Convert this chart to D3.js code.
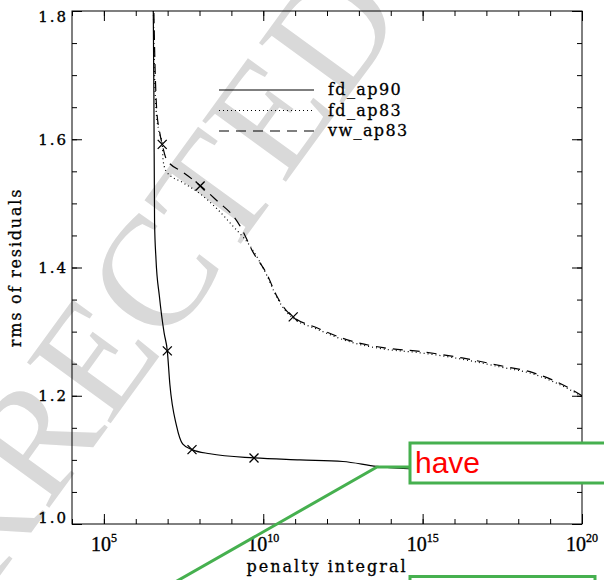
<!DOCTYPE html>
<html lang="en">
<head>
<meta charset="UTF-8">
<title>rms of residuals vs penalty integral</title>
<script src="https://d3js.org/d3.v7.min.js"></script>
<style>
  body { margin: 0; background: #fff; }
  .axis path { display: none; }
  .axis line { stroke: #000; stroke-width: 1px; }
  .ylab { font-family: "DejaVu Serif", serif; font-size: 15px; letter-spacing: 2px; stroke: #000; stroke-width: 0.35px; }
  .xlab { font-family: "Liberation Serif", serif; font-size: 20px; stroke: #000; stroke-width: 0.35px; }
  .title { font-family: "DejaVu Serif", serif; font-size: 16px; stroke: #000; stroke-width: 0.3px; }
  .legend { font-family: "DejaVu Serif", serif; font-size: 16px; letter-spacing: 1.4px; stroke: #000; stroke-width: 0.3px; }
  .curve { fill: none; stroke: #000; stroke-width: 1.2px; }
  .mark { fill: none; stroke: #000; stroke-width: 1.3px; }
</style>
</head>
<body>
<div id="chart"></div>
<script>
// penalty integral given as log10, rms
const fdAp90Exp = [6.545, 6.55, 6.57, 6.59, 6.635, 6.74, 6.81, 6.89, 6.99, 7.07, 7.28, 7.47, 7.765, 8.33, 9.71, 11.15, 12.5, 13.56, 14.6, 16.0, 18.0, 20.0];
const fdAp90Rms = [1.85, 1.80, 1.661, 1.471, 1.413, 1.356, 1.326, 1.298, 1.270, 1.218, 1.153, 1.125, 1.116, 1.1095, 1.103, 1.100, 1.0975, 1.090, 1.086, 1.083, 1.080, 1.078];

const fdAp83Exp = [6.54, 6.58, 6.64, 6.72, 6.83, 6.86, 6.97, 7.49, 8.02, 8.54, 9.06, 9.58, 10.11, 10.42, 10.74, 10.94, 11.68, 12.72, 13.76, 14.92, 16.24, 17.43, 18.46, 19.52, 20.0];
const fdAp83Rms = [1.85, 1.723, 1.644, 1.614, 1.592, 1.566, 1.549, 1.532, 1.515, 1.492, 1.464, 1.434, 1.388, 1.354, 1.330, 1.321, 1.304, 1.284, 1.273, 1.267, 1.257, 1.245, 1.234, 1.212, 1.199];

const vwAp83Exp = [6.55, 6.60, 6.66, 6.74, 6.83, 6.97, 7.5, 8.02, 8.55, 9.11, 9.27, 9.68, 10.11, 10.42, 10.74, 10.94, 11.68, 12.72, 13.76, 14.92, 16.24, 17.43, 18.46, 19.52, 20.0];
const vwAp83Rms = [1.85, 1.723, 1.644, 1.614, 1.592, 1.568, 1.548, 1.528, 1.504, 1.477, 1.465, 1.424, 1.390, 1.356, 1.332, 1.323, 1.306, 1.286, 1.275, 1.269, 1.259, 1.247, 1.236, 1.214, 1.200];

// x markers
const markExp = [6.99, 7.765, 9.71, 6.83, 8.02, 10.94];
const markRms = [1.270, 1.116, 1.103, 1.592, 1.527, 1.323];

const seriesNames = ["fd_ap90", "fd_ap83", "vw_ap83"];
const seriesDash = [null, "1,3", "10,7"];

const xMajorExp = [5, 10, 15, 20];
const xMinorExp = d3.range(4, 21);
const yMajor = [1.0, 1.2, 1.4, 1.6, 1.8];
const yMinor = d3.range(1.0, 1.8001, 0.05);

const margin = { top: 11, right: 22, bottom: 56, left: 72 },
      width = 510,
      height = 513;

const svg = d3.select("#chart")
  .append("svg")
  .attr("width", 604)
  .attr("height", 580);

// watermark
svg.append("text")
  .attr("transform", "translate(-145,775) rotate(-54)")
  .attr("font-family", "Liberation Serif, serif")
  .attr("font-size", 158)
  .attr("fill", "#d9d9d9")
  .text("CORRECTED PROOF");

const g = svg.append("g")
  .attr("transform", `translate(${margin.left},${margin.top})`);

const x = d3.scaleLog().domain([1e4, 1e20]).range([0, width]);
const y = d3.scaleLinear().domain([1.0, 1.8]).range([height, 0]);

g.append("clipPath").attr("id", "clip")
  .append("rect").attr("width", width).attr("height", height);

// ticks on all four sides, pointing inward
const xMaj = xMajorExp.map(e => Math.pow(10, e));
const xMin = xMinorExp.map(e => Math.pow(10, e));
function addAxis(axis, tr) {
  g.append("g").attr("class", "axis").attr("transform", tr).call(axis);
}
addAxis(d3.axisBottom(x).tickValues(xMin).tickSize(-5).tickFormat(""), `translate(0,${height})`);
addAxis(d3.axisBottom(x).tickValues(xMaj).tickSize(-10).tickFormat(""), `translate(0,${height})`);
addAxis(d3.axisTop(x).tickValues(xMin).tickSize(-5).tickFormat(""), "translate(0,0)");
addAxis(d3.axisTop(x).tickValues(xMaj).tickSize(-10).tickFormat(""), "translate(0,0)");
addAxis(d3.axisLeft(y).tickValues(yMinor).tickSize(-5).tickFormat(""), "translate(0,0)");
addAxis(d3.axisLeft(y).tickValues(yMajor).tickSize(-10).tickFormat(""), "translate(0,0)");
addAxis(d3.axisRight(y).tickValues(yMinor).tickSize(-5).tickFormat(""), `translate(${width},0)`);
addAxis(d3.axisRight(y).tickValues(yMajor).tickSize(-10).tickFormat(""), `translate(${width},0)`);

g.append("rect")
  .attr("width", width).attr("height", height)
  .attr("fill", "none").attr("stroke", "#000").attr("stroke-width", 1);

// y tick labels
g.selectAll(".ylab").data(yMajor).enter().append("text")
  .attr("class", "ylab")
  .attr("x", -4)
  .attr("y", d => Math.min(Math.max(y(d), 6), height - 6))
  .attr("dy", "0.36em")
  .attr("text-anchor", "end")
  .text(d => d3.format(".1f")(d));

// x tick labels with superscript exponent
const xl = g.selectAll(".xlab").data(xMajorExp).enter().append("text")
  .attr("class", "xlab")
  .attr("x", d => x(Math.pow(10, d)))
  .attr("y", height + 27)
  .attr("text-anchor", "middle");
xl.append("tspan").text("10");
xl.append("tspan").attr("dy", -9).attr("font-size", 12).text(d => d);

// axis titles
g.append("text").attr("class", "title")
  .attr("x", width / 2).attr("y", height + 48)
  .attr("text-anchor", "middle")
  .attr("letter-spacing", 2)
  .text("penalty integral");

svg.append("text").attr("class", "title")
  .attr("transform", `translate(21,${margin.top + height / 2}) rotate(-90)`)
  .attr("text-anchor", "middle")
  .attr("letter-spacing", 1.8)
  .text("rms of residuals");

// curves
const line = d3.line()
  .x(d => x(Math.pow(10, d[0])))
  .y(d => y(d[1]))
  .curve(d3.curveMonotoneX);

const curves = [
  d3.zip(fdAp90Exp, fdAp90Rms),
  d3.zip(fdAp83Exp, fdAp83Rms),
  d3.zip(vwAp83Exp, vwAp83Rms)
];

const plot = g.append("g").attr("clip-path", "url(#clip)");
plot.selectAll(".curve").data(curves).enter().append("path")
  .attr("class", "curve")
  .attr("d", line)
  .attr("stroke-dasharray", (d, i) => seriesDash[i]);

plot.selectAll(".mark").data(d3.zip(markExp, markRms)).enter().append("path")
  .attr("class", "mark")
  .attr("transform", d => `translate(${x(Math.pow(10, d[0]))},${y(d[1])})`)
  .attr("d", "M-4.5,-4.5L4.5,4.5M-4.5,4.5L4.5,-4.5");

// legend
const leg = svg.append("g").attr("transform", "translate(219,90)");
seriesNames.forEach((name, i) => {
  leg.append("line")
    .attr("x1", 0).attr("x2", 95)
    .attr("y1", i * 20.5).attr("y2", i * 20.5)
    .attr("stroke", "#000").attr("stroke-width", 1.2)
    .attr("stroke-dasharray", seriesDash[i]);
  leg.append("text").attr("class", "legend")
    .attr("x", 109).attr("y", i * 20.5 + 5)
    .text(name);
});

// green callout overlay
const green = "#46b04f";
svg.append("polyline")
  .attr("points", "170,585 377,467 410,467")
  .attr("fill", "none").attr("stroke", green).attr("stroke-width", 3);
svg.append("rect")
  .attr("x", 410).attr("y", 443).attr("width", 210).attr("height", 40)
  .attr("fill", "#fff").attr("stroke", green).attr("stroke-width", 3);
svg.append("text")
  .attr("x", 415).attr("y", 473)
  .attr("font-family", "Liberation Sans, Arial, sans-serif")
  .attr("font-size", 30)
  .attr("fill", "#ff0000")
  .text("have");
svg.append("rect")
  .attr("x", 410).attr("y", 576.5).attr("width", 185).attr("height", 30)
  .attr("fill", "#fff").attr("stroke", green).attr("stroke-width", 3);
</script>
</body>
</html>
